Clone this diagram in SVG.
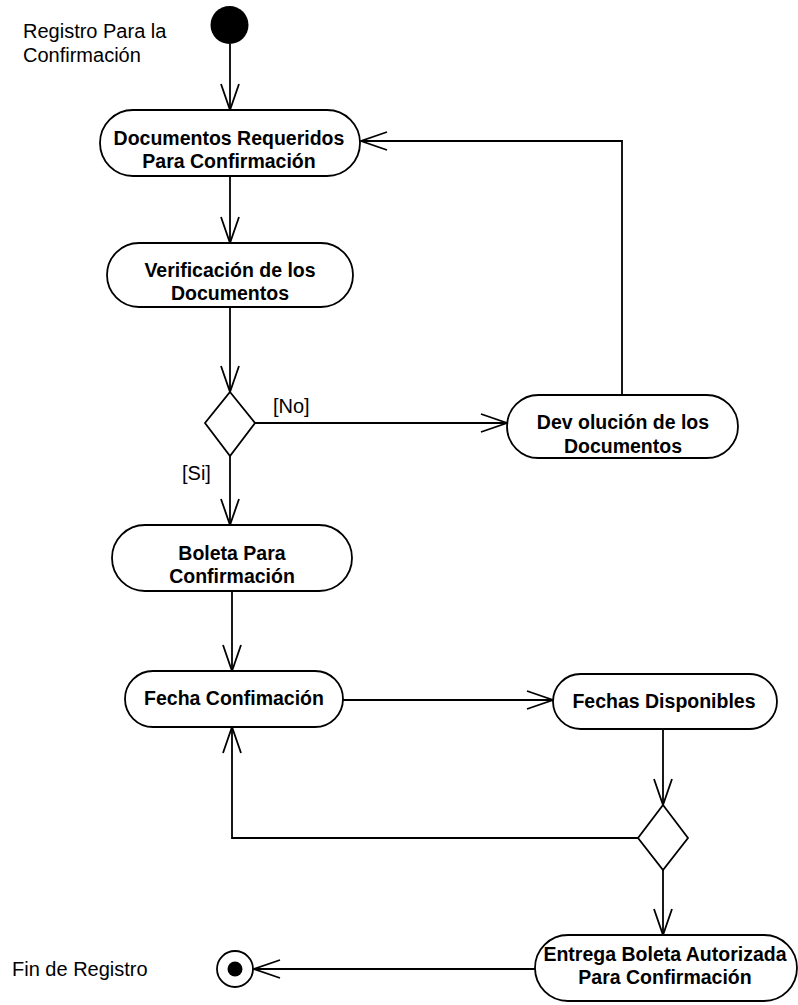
<svg xmlns="http://www.w3.org/2000/svg" width="798" height="1005" viewBox="0 0 798 1005">
  <style>
    .act { fill: #ffffff; stroke: #000000; stroke-width: 1.8; }
    .lbl { font-family: "Liberation Sans", Arial, sans-serif; font-size: 19.5px; font-weight: bold; fill: #000000; text-anchor: middle; }
    .note { font-family: "Liberation Sans", Arial, sans-serif; font-size: 20px; fill: #000000; }
    .flow { fill: none; stroke: #000000; stroke-width: 1.8; }
    .dec { fill: #ffffff; stroke: #000000; stroke-width: 1.8; }
  </style>
  <defs>
    <marker id="open" markerUnits="userSpaceOnUse" markerWidth="32" markerHeight="24" viewBox="-29 -12 32 24" refX="0" refY="0" orient="auto">
      <path d="M -26 -9 L 0 0 L -26 9" fill="none" stroke="#000000" stroke-width="1.8"/>
    </marker>
  </defs>

  <rect width="798" height="1005" fill="#ffffff"/>

  <!-- free-standing labels -->
  <text class="note" x="23" y="38">Registro Para la</text>
  <text class="note" x="23" y="62">Confirmación</text>
  <text class="note" x="12" y="976">Fin de Registro</text>

  <!-- transitions -->
  <g id="connectors">
    <line class="flow" x1="230" y1="44" x2="230" y2="110" marker-end="url(#open)"/>
    <line class="flow" x1="230" y1="176" x2="230" y2="243" marker-end="url(#open)"/>
    <line class="flow" x1="230" y1="307" x2="230" y2="392" marker-end="url(#open)"/>
    <line class="flow" x1="255" y1="423" x2="507" y2="423" marker-end="url(#open)"/>
    <text class="note" x="273" y="413">[No]</text>
    <polyline class="flow" points="622,395 622,141 361,141" marker-end="url(#open)"/>
    <line class="flow" x1="230" y1="456" x2="230" y2="525" marker-end="url(#open)"/>
    <text class="note" x="182" y="480">[Si]</text>
    <line class="flow" x1="232" y1="591" x2="232" y2="671" marker-end="url(#open)"/>
    <line class="flow" x1="343" y1="700" x2="553" y2="700" marker-end="url(#open)"/>
    <line class="flow" x1="663" y1="729" x2="663" y2="805" marker-end="url(#open)"/>
    <polyline class="flow" points="638,838 232,838 232,727" marker-end="url(#open)"/>
    <line class="flow" x1="663" y1="870" x2="663" y2="935" marker-end="url(#open)"/>
    <line class="flow" x1="535" y1="969" x2="254" y2="969" marker-end="url(#open)"/>
  </g>

  <g id="start">
    <circle cx="229.5" cy="25" r="19" fill="#000000"/>
  </g>

  <g id="documentos-requeridos">
    <rect class="act" x="100" y="110" width="260" height="66" rx="33"/>
    <text class="lbl" x="229" y="145">Documentos Requeridos</text>
    <text class="lbl" x="229" y="168">Para Confirmación</text>
  </g>

  <g id="verificacion">
    <rect class="act" x="107" y="243" width="246" height="64" rx="32"/>
    <text class="lbl" x="230" y="277">Verificación de los</text>
    <text class="lbl" x="230" y="300">Documentos</text>
  </g>

  <g id="decision-documentos">
    <polygon class="dec" points="230,392 255,423 230,456 205,423"/>
  </g>

  <g id="devolucion">
    <rect class="act" x="507" y="395" width="231" height="63" rx="31.5"/>
    <text class="lbl" x="623" y="429">Dev olución de los</text>
    <text class="lbl" x="623" y="453">Documentos</text>
  </g>

  <g id="boleta">
    <rect class="act" x="112" y="525" width="240" height="66" rx="33"/>
    <text class="lbl" x="232" y="560">Boleta Para</text>
    <text class="lbl" x="232" y="583">Confirmación</text>
  </g>

  <g id="fecha-confimacion">
    <rect class="act" x="125" y="671" width="218" height="56" rx="28"/>
    <text class="lbl" x="234" y="705">Fecha Confimación</text>
  </g>

  <g id="fechas-disponibles">
    <rect class="act" x="553" y="674" width="224" height="55" rx="27.5"/>
    <text class="lbl" x="664" y="708">Fechas Disponibles</text>
  </g>

  <g id="decision-fechas">
    <polygon class="dec" points="663,805 688,838 663,870 638,838"/>
  </g>

  <g id="entrega-boleta">
    <rect class="act" x="535" y="935" width="262" height="66" rx="33"/>
    <text class="lbl" x="665" y="961">Entrega Boleta Autorizada</text>
    <text class="lbl" x="665" y="984">Para Confirmación</text>
  </g>

  <g id="end">
    <circle cx="235" cy="969" r="18" fill="#ffffff" stroke="#000000" stroke-width="1.8"/>
    <circle cx="235" cy="969" r="7.5" fill="#000000"/>
  </g>
</svg>
